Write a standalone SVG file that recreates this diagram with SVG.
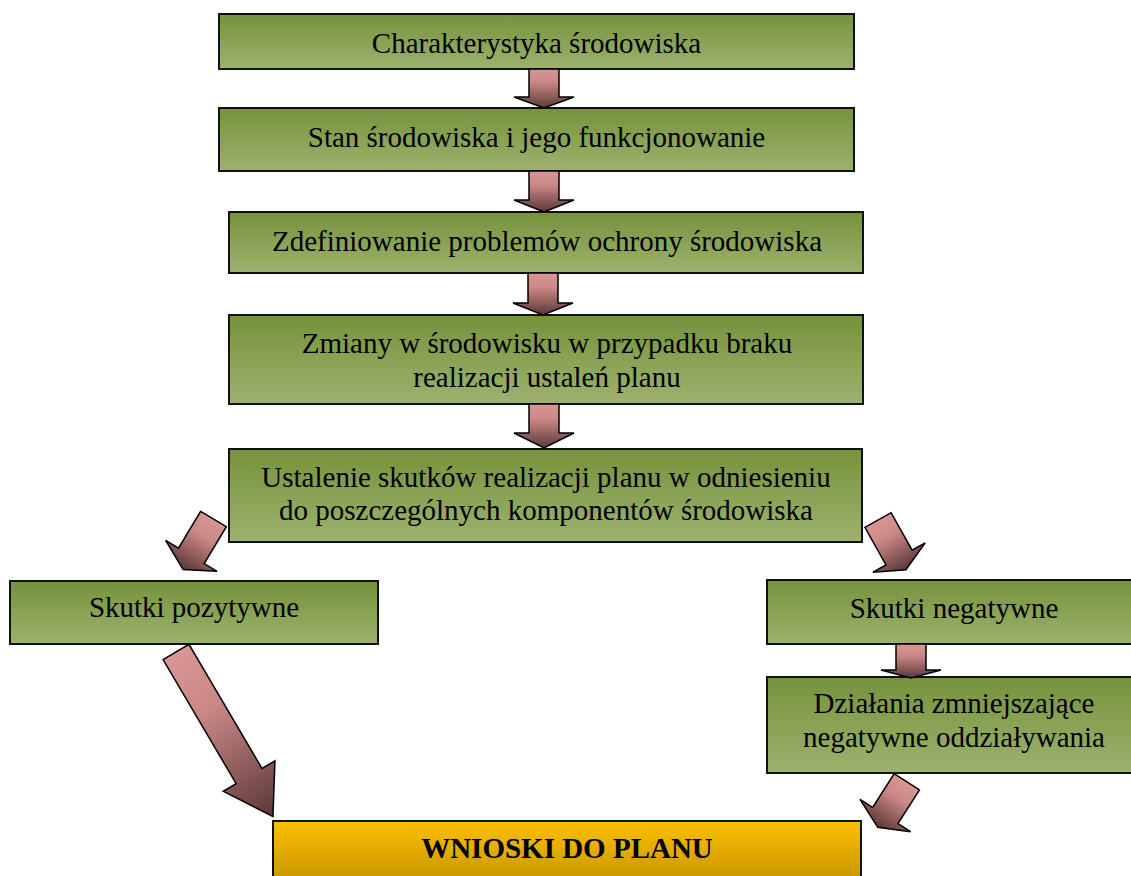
<svg xmlns="http://www.w3.org/2000/svg" width="1131" height="876" viewBox="0 0 1131 876">
<defs>
<linearGradient id="gGreen" x1="0" y1="0" x2="0" y2="1">
<stop offset="0" stop-color="#76923c"/>
<stop offset="1" stop-color="#9db26e"/>
</linearGradient>
<linearGradient id="gGold" x1="0" y1="0" x2="0" y2="1">
<stop offset="0" stop-color="#fcc000"/>
<stop offset="1" stop-color="#bf8f00"/>
</linearGradient>
<linearGradient id="gArrow" x1="0" y1="0" x2="0" y2="1">
<stop offset="0" stop-color="#d99694"/>
<stop offset="0.35" stop-color="#c98785"/>
<stop offset="1" stop-color="#5b3838"/>
</linearGradient>
</defs>
<style>
.box{fill:url(#gGreen);stroke:#111;stroke-width:2}
.gold{fill:url(#gGold);stroke:#111;stroke-width:2}
.arr{fill:url(#gArrow);stroke:#000;stroke-width:1.5;stroke-linejoin:miter}
text{font-family:"Liberation Serif","Times New Roman",serif;font-size:29px;fill:#000;text-anchor:middle}
.b{font-weight:bold}
</style>
<rect width="1131" height="876" fill="#fff"/>
<g id="n1"><rect class="box" x="219" y="14" width="635" height="55"/><text x="536.5" y="53">Charakterystyka środowiska</text></g>
<g id="n2"><rect class="box" x="219" y="108" width="635" height="63"/><text x="536.5" y="147">Stan środowiska i jego funkcjonowanie</text></g>
<g id="n3"><rect class="box" x="229" y="212" width="634" height="61"/><text x="547" y="251">Zdefiniowanie problemów ochrony środowiska</text></g>
<g id="n4"><rect class="box" x="229" y="315" width="634" height="89"/><text x="547" y="353">Zmiany w środowisku w przypadku braku</text><text x="547" y="387">realizacji ustaleń planu</text></g>
<g id="n5"><rect class="box" x="229" y="449" width="633" height="93"/><text x="546" y="487">Ustalenie skutków realizacji planu w odniesieniu</text><text x="546" y="520">do poszczególnych komponentów środowiska</text></g>
<g id="n6"><rect class="box" x="10" y="581" width="368" height="63"/><text x="194" y="617">Skutki pozytywne</text></g>
<g id="n7"><rect class="box" x="767" y="580" width="375" height="64"/><text x="954" y="618">Skutki negatywne</text></g>
<g id="n8"><rect class="box" x="767" y="677" width="375" height="96"/><text x="954" y="713">Działania zmniejszające</text><text x="954" y="747">negatywne oddziaływania</text></g>
<g id="n9"><rect class="gold" x="273" y="821" width="588" height="70"/><text class="b" x="567" y="858">WNIOSKI DO PLANU</text></g>
<g id="connectors">
<path class="arr" transform="translate(544 69)" d="M-15 0H15V28H30L0 39L-30 28H-15Z"/>
<path class="arr" transform="translate(544 171)" d="M-15 0H15V29H30L0 41L-30 29H-15Z"/>
<path class="arr" transform="translate(543 273)" d="M-15 0H15V30H30L0 42L-30 30H-15Z"/>
<path class="arr" transform="translate(544 404)" d="M-15 0H15V29H30L0 44L-30 29H-15Z"/>
<path class="arr" transform="translate(213.5 519) rotate(31)" d="M-15 0H15V43H30L0 59L-30 43H-15Z"/>
<path class="arr" transform="translate(878 520) rotate(-29.3)" d="M-15 0H15V43H30L0 57L-30 43H-15Z"/>
<path class="arr" transform="translate(176 652) rotate(-30.5)" d="M-15 0H15V144H30L0 191L-30 144H-15Z"/>
<path class="arr" transform="translate(911 644)" d="M-15 0H15V26H30L0 34L-30 26H-15Z"/>
<path class="arr" transform="translate(906.8 781.8) rotate(32.5)" d="M-15 0H15V40H30L0 54L-30 40H-15Z"/>
</g>
</svg>
